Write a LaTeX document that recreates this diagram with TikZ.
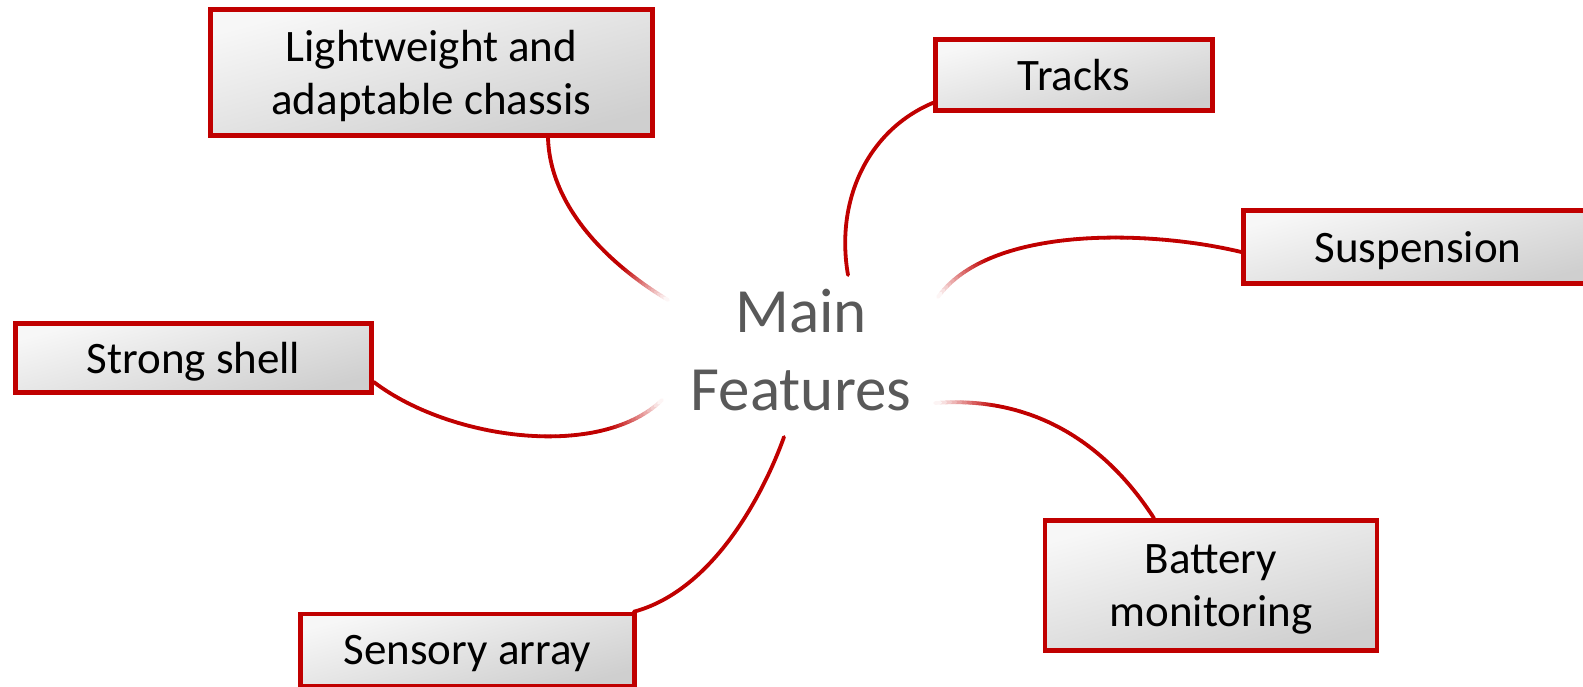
\documentclass[tikz,border=0pt]{standalone}
\usepackage{fontspec}
\setmainfont{Carlito}
\usetikzlibrary{calc,backgrounds}
\definecolor{accentred}{HTML}{C00000}
\definecolor{hubgray}{HTML}{595959}
\tikzset{
  topic/.style={rectangle, draw=accentred, line width=4.5pt,
    top color=black!3, bottom color=black!19, shading angle=15,
    align=center, text=black, inner sep=0pt, text depth=0pt,
    font=\fontsize{45}{53}\selectfont},
  hub/.style={align=center, text=hubgray, inner sep=0pt,
    font=\fontsize{63}{78}\selectfont},
  link/.style={draw=accentred, line width=3.8pt, line cap=round},
}
% curve from a topic box towards the hub, fading to white after fraction #5
\newcommand\fadedlink[5]{%
  \foreach \k in {0,...,59}{%
    \pgfmathsetmacro\ta{\k/60}%
    \pgfmathsetmacro\tb{(\k+1)/60}%
    \pgfmathsetmacro\w{min(100,100*(1-(\k+0.5)/60)/(1-#5))}%
    \path #1 .. controls #2 and #3 .. #4
      coordinate[pos=\ta] (sa) coordinate[pos=\tb] (sb);
    \draw[link, draw=accentred!\w!white] (sa) -- (sb);
  }%
}
\begin{document}
\begin{tikzpicture}[x=1pt, y=-1pt]
\useasboundingbox (0,0) rectangle (1583,687);
\clip (0,0) rectangle (1583,687);

% central label
\node[hub] (hub) at (801,350) {Main\\Features};

% topic boxes
\node[topic, minimum width=442pt, minimum height=126pt] (chassis) at (431.5,72.5)
  {Lightweight and\\adaptable chassis};
\node[topic, minimum width=277pt, minimum height=71pt] (tracks) at (1074,75) {Tracks};
\node[topic, minimum width=349pt, minimum height=73pt] (suspension) at (1418,247) {Suspension};
\node[topic, minimum width=356pt, minimum height=69pt] (shell) at (193.5,358) {Strong shell};
\node[topic, minimum width=334pt, minimum height=72pt] (sensory) at (467.5,650) {Sensory array};
\node[topic, minimum width=332pt, minimum height=130pt] (battery) at (1211,585.5)
  {Battery\\monitoring};

% free ends of the connectors near the hub
\coordinate (eChassis) at (668,300);
\coordinate (eTracks) at (848,275);
\coordinate (eSusp) at (938,297);
\coordinate (eShell) at (662,400);
\coordinate (eSensory) at (784,437);
\coordinate (eBattery) at (935,403);

\begin{scope}[on background layer]
  \fadedlink{([xshift=116.5pt]chassis.south)}{(550,205)}{(605,262)}{(eChassis)}{0.75}
  \draw[link] ([yshift=10pt]tracks.south west) .. controls (868,130) and (835,200) .. (eTracks);
  \fadedlink{([yshift=-5pt]suspension.west)}{(1150,230)}{(990,225)}{(eSusp)}{0.78}
  \fadedlink{([yshift=-24pt]shell.east)}{(450,440)}{(600,460)}{(eShell)}{0.78}
  \draw[link] ([xshift=-3pt]sensory.north east) .. controls (715,590) and (765,490) .. (eSensory);
  \fadedlink{([xshift=-57pt]battery.north)}{(1110,450)}{(1040,395)}{(eBattery)}{0.8}
\end{scope}
\end{tikzpicture}
\end{document}
